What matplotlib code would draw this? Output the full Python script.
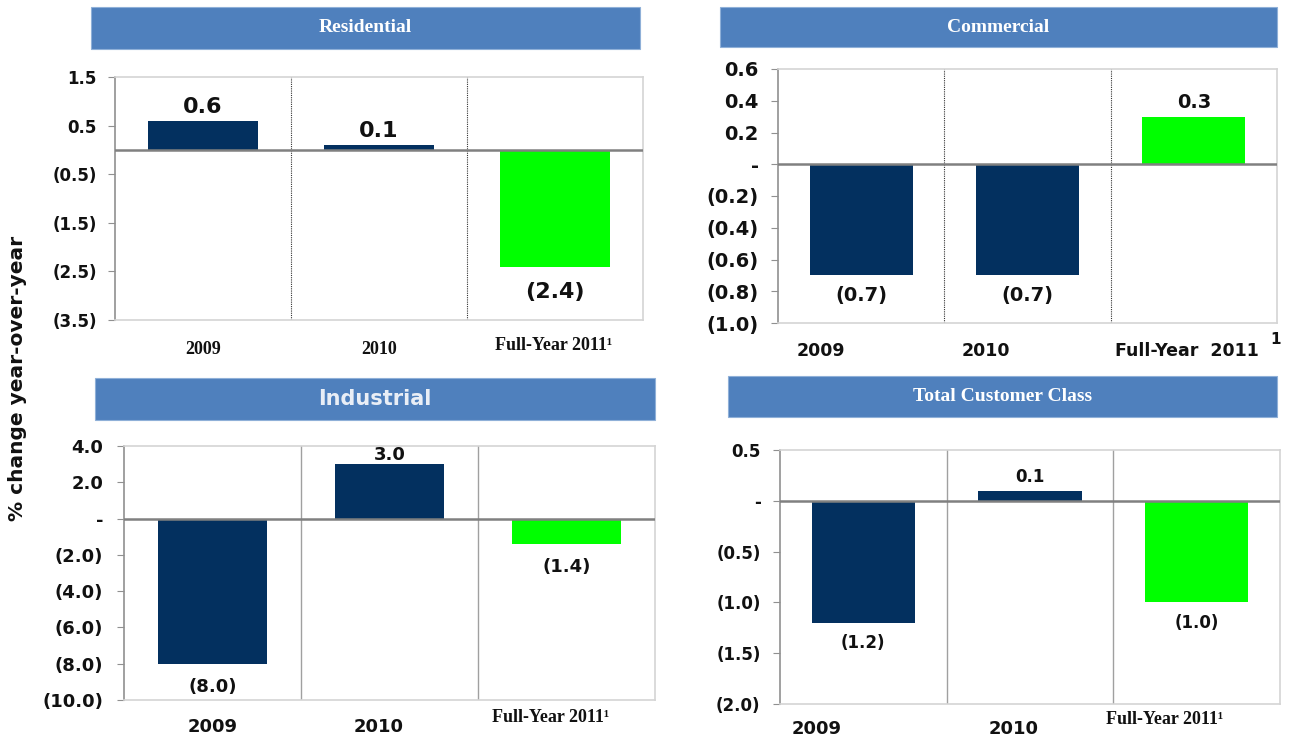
import matplotlib
matplotlib.use('Agg')
import matplotlib.pyplot as plt
from matplotlib.patches import Rectangle

W, H = 1292, 742

# datos
categorias = ['2009', '2010', 'Full-Year 2011']
residencial = [0.6, 0.1, -2.4]
comercial = [-0.7, -0.7, 0.3]
industrial = [-8.0, 3.0, -1.4]
total = [-1.2, 0.1, -1.0]

ticks_res = [1.5, 0.5, -0.5, -1.5, -2.5, -3.5]
ticks_com = [0.6, 0.4, 0.2, 0.0, -0.2, -0.4, -0.6, -0.8, -1.0]
ticks_ind = [4.0, 2.0, 0.0, -2.0, -4.0, -6.0, -8.0, -10.0]
ticks_tot = [0.5, 0.0, -0.5, -1.0, -1.5, -2.0]

AZUL = '#03305f'
VERDE = '#00ff00'
CABECERA = '#4f80bd'
SERIF = 'Liberation Serif'
SANS = 'DejaVu Sans'


def caja(x0, y0, x1, y1):
    # pixeles -> fracciones de la figura
    return [x0 / W, 1 - y1 / H, (x1 - x0) / W, (y1 - y0) / H]


def fmt(v):
    if abs(v) < 1e-9:
        return '-'
    if v < 0:
        return '(%.1f)' % -v
    return '%.1f' % v


fig = plt.figure(figsize=(W / 100, H / 100), dpi=100)
fig.patch.set_facecolor('white')

paneles = [
    dict(titulo='Residential', vals=residencial, ticks=ticks_res, ylim=(-3.5, 1.5),
         ax=(115, 77, 643, 320), cab=(91, 7, 640, 49), fcab=(SERIF, 14, 'white'),
         div=':', tick_fs=12, pad=8, val_fs=16, val_off=(3, 11),
         xl=[(0, 29, SERIF), (0, 29, SERIF), (-0.01, 26, SERIF)], xl_fs=13, sup=None),
    dict(titulo='Commercial', vals=comercial, ticks=ticks_com, ylim=(-1.0, 0.6),
         ax=(778, 69, 1277, 323), cab=(720, 7, 1277, 47), fcab=(SERIF, 14, 'white'),
         div=':', tick_fs=14, pad=9, val_fs=14, val_off=(3, 8),
         xl=[(-0.24, 28, SANS), (-0.25, 28, SANS), (-0.04, 28, SANS)], xl_fs=12.5,
         sup='comercial'),
    dict(titulo='Industrial', vals=industrial, ticks=ticks_ind, ylim=(-10.0, 4.0),
         ax=(124, 446, 655, 700), cab=(95, 378, 655, 420), fcab=(SANS, 15, '#e9eef6'),
         div='-', tick_fs=13, pad=10, val_fs=13, val_off=(0, 10),
         xl=[(0.0, 27, SANS), (-0.06, 27, SANS), (-0.09, 18, SERIF)], xl_fs=13, sup=None),
    dict(titulo='Total Customer Class', vals=total, ticks=ticks_tot, ylim=(-2.0, 0.5),
         ax=(780, 450, 1280, 704), cab=(728, 376, 1277, 417), fcab=(SERIF, 14, 'white'),
         div='-', tick_fs=12, pad=9, val_fs=12, val_off=(3, 8),
         xl=[(-0.28, 25, SANS), (-0.1, 25, SANS), (-0.19, 16, SERIF)], xl_fs=13, sup=None),
]

for p in paneles:
    # cabecera azul
    x0, y0, x1, y1 = p['cab']
    fig.patches.append(Rectangle((x0 / W, 1 - y1 / H), (x1 - x0) / W, (y1 - y0) / H,
                                 transform=fig.transFigure, facecolor=CABECERA,
                                 edgecolor='#8fb0d8', lw=0.8))
    fam, fs, col = p['fcab']
    fig.text((x0 + x1) / 2 / W, 1 - (y0 + y1) / 2 / H, p['titulo'], family=fam,
             fontsize=fs, fontweight='bold', color=col, ha='center', va='center')

    ax = fig.add_axes(caja(*p['ax']))
    xs = range(len(p['vals']))
    colores = [AZUL, AZUL, VERDE]
    ax.bar(xs, p['vals'], width=0.62, color=colores, zorder=2)
    ax.set_xlim(-0.5, 2.5)
    ax.set_ylim(*p['ylim'])
    ax.axhline(0, color='#808080', lw=1.8, zorder=3)

    # divisiones entre categorias
    if p['div'] == ':':
        for xd in (0.5, 1.5):
            ax.axvline(xd, color='#333333', lw=0.8, ls=(0, (1, 1)), zorder=1)
    else:
        for xd in (0.5, 1.5):
            ax.axvline(xd, color='#a0a0a0', lw=1.0, zorder=1)

    ax.set_yticks(p['ticks'])
    ax.set_yticklabels([fmt(t) for t in p['ticks']], family=SANS, fontweight='bold',
                       fontsize=p['tick_fs'], color='#111111')
    ax.tick_params(axis='y', length=5, color='#909090', pad=p['pad'])
    ax.set_xticks([])
    for lado in ('top', 'right', 'bottom'):
        ax.spines[lado].set_color('#d4d4d4')
        ax.spines[lado].set_linewidth(1.2)
    ax.spines['left'].set_color('#909090')
    ax.spines['left'].set_linewidth(1.2)

    # etiquetas de valor
    arriba, abajo = p['val_off']
    for i, v in enumerate(p['vals']):
        if v >= 0:
            ax.annotate(fmt(v), (i, v), xytext=(0, arriba), textcoords='offset points',
                        ha='center', va='bottom', family=SANS, fontweight='bold',
                        fontsize=p['val_fs'], color='#111111')
        else:
            ax.annotate(fmt(v), (i, v), xytext=(0, -abajo), textcoords='offset points',
                        ha='center', va='top', family=SANS, fontweight='bold',
                        fontsize=p['val_fs'], color='#111111')

    # etiquetas de categoria
    for i, (cat, (dx, dy, fam)) in enumerate(zip(categorias, p['xl'])):
        texto = cat
        if cat.startswith('Full'):
            texto = cat + '\u00b9' if fam == SERIF else cat.replace(' 2011', '  2011')
        ax.annotate(texto, (i + dx, 0), xycoords=('data', 'axes fraction'),
                    xytext=(0, -dy * 0.72), textcoords='offset points',
                    ha='center', va='center', family=fam, fontweight='bold',
                    fontsize=p['xl_fs'], color='#111111')
    if p['sup'] == 'comercial':
        ax.annotate('1', (1.0, 0), xycoords='axes fraction', xytext=(-1, -17 * 0.72),
                    textcoords='offset points', ha='center', va='center', family=SANS,
                    fontweight='bold', fontsize=11, color='#111111')

fig.text(18 / W, 1 - 378 / H, '% change year-over-year', rotation=90, family=SANS,
         fontweight='bold', fontsize=14.5, color='#111111', ha='center', va='center')

fig.savefig('out.png', dpi=100)
